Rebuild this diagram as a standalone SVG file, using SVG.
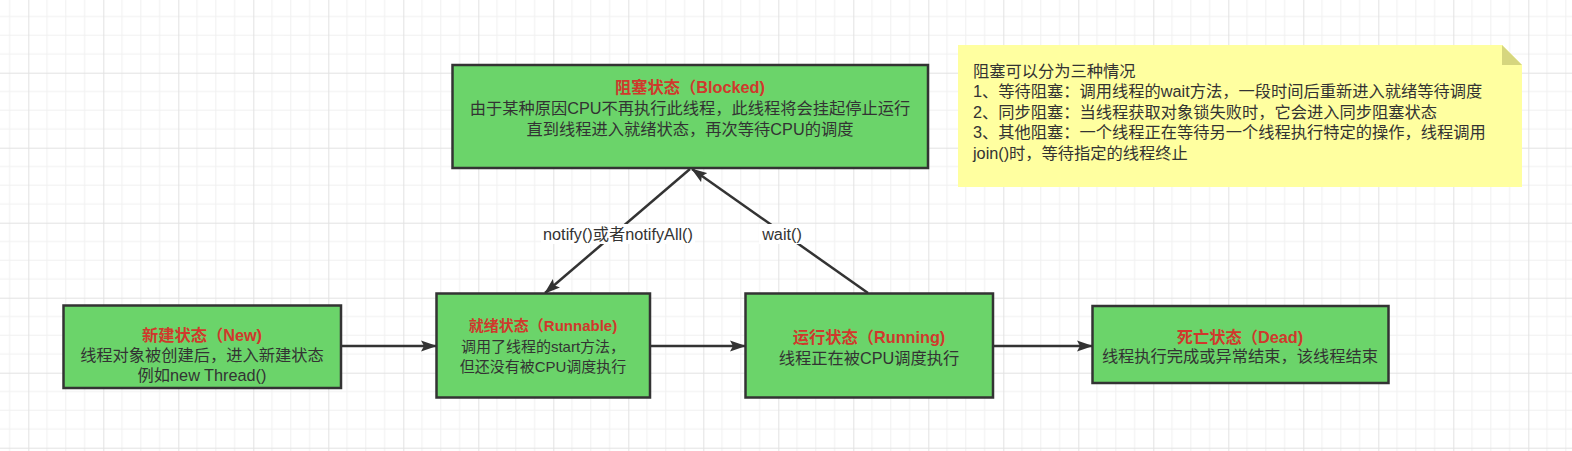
<svg xmlns="http://www.w3.org/2000/svg" width="1572" height="451" viewBox="0 0 1572 451">
<defs>
<pattern id="grid" patternUnits="userSpaceOnUse" x="28.3" y="-2.3" width="75" height="75">
<path d="M18.75 0V75M37.5 0V75M56.25 0V75M0 18.75H75M0 37.5H75M0 56.25H75" stroke="#f0f0f0" stroke-width="1" fill="none"/>
<path d="M0.5 0V75M0 0.5H75" stroke="#e2e2e2" stroke-width="1" fill="none"/>
</pattern>
<marker id="arr" viewBox="0 0 16 12" refX="15" refY="6" markerWidth="16" markerHeight="12" markerUnits="userSpaceOnUse" orient="auto">
<path d="M0 0.5L16 6L0 11.5L3 6Z" fill="#333333"/>
</marker>
</defs>
<style>
.box{fill:#6bd46a;stroke:#333333;stroke-width:2.5}
.t{font-family:"Liberation Sans","Noto Sans CJK SC",sans-serif;text-anchor:middle;fill:#333333}
.h{font-weight:bold;fill:#d0392c}
.f16{font-size:16.25px}
.f15{font-size:15px}
.edge{stroke:#333333;stroke-width:2.5;fill:none;marker-end:url(#arr)}
.lbl{font-family:"Liberation Sans","Noto Sans CJK SC",sans-serif;font-size:16.25px;text-anchor:middle;fill:#333333}
.note{font-family:"Liberation Sans","Noto Sans CJK SC",sans-serif;font-size:16.25px;fill:#333333}
</style>
<rect width="1572" height="451" fill="#ffffff"/>
<rect width="1572" height="451" fill="url(#grid)"/>

<g id="connectors">
<line class="edge" x1="341" y1="346" x2="436" y2="346"/>
<line class="edge" x1="650" y1="346" x2="745" y2="346"/>
<line class="edge" x1="993" y1="346" x2="1092" y2="346"/>
<line class="edge" x1="690" y1="169" x2="545" y2="293"/>
<line class="edge" x1="868" y1="293" x2="692" y2="169"/>
<rect x="541" y="224" width="154" height="20" fill="#ffffff"/>
<rect x="759" y="224" width="46" height="20" fill="#ffffff"/>
<text class="lbl" x="618" y="240">notify()或者notifyAll()</text>
<text class="lbl" x="782" y="240">wait()</text>
</g>

<g id="blocked">
<rect class="box" x="452.5" y="65" width="475.5" height="103"/>
<text class="t h f16" x="690" y="93">阻塞状态（Blocked)</text>
<text class="t f16" x="690" y="114">由于某种原因CPU不再执行此线程，此线程将会挂起停止运行</text>
<text class="t f16" x="690" y="135">直到线程进入就绪状态，再次等待CPU的调度</text>
</g>

<g id="new">
<rect class="box" x="63.5" y="305.5" width="277.5" height="82.5"/>
<text class="t h f16" x="202" y="341">新建状态（New)</text>
<text class="t f16" x="202" y="361">线程对象被创建后，进入新建状态</text>
<text class="t f16" x="202" y="381">例如new Thread()</text>
</g>

<g id="runnable">
<rect class="box" x="436.5" y="293.5" width="213.5" height="104"/>
<text class="t h f15" x="543" y="331">就绪状态（Runnable)</text>
<text class="t f15" x="543" y="352">调用了线程的start方法，</text>
<text class="t f15" x="543" y="372">但还没有被CPU调度执行</text>
</g>

<g id="running">
<rect class="box" x="745.5" y="293.5" width="247.5" height="104"/>
<text class="t h f16" x="869" y="343">运行状态（Running)</text>
<text class="t f16" x="869" y="364">线程正在被CPU调度执行</text>
</g>

<g id="dead">
<rect class="box" x="1092.5" y="306" width="296" height="77"/>
<text class="t h f16" x="1240" y="343">死亡状态（Dead)</text>
<text class="t f16" x="1240" y="362">线程执行完成或异常结束，该线程结束</text>
</g>

<g id="note">
<path d="M958 45H1502L1522 65V187H958Z" fill="#ffffa0"/>
<path d="M1502 45V65H1522Z" fill="#d6d67e"/>
<text class="note" x="973" y="77">阻塞可以分为三种情况</text>
<text class="note" x="973" y="97">1、等待阻塞：调用线程的wait方法，一段时间后重新进入就绪等待调度</text>
<text class="note" x="973" y="117.5">2、同步阻塞：当线程获取对象锁失败时，它会进入同步阻塞状态</text>
<text class="note" x="973" y="138">3、其他阻塞：一个线程正在等待另一个线程执行特定的操作，线程调用</text>
<text class="note" x="973" y="158.5">join()时，等待指定的线程终止</text>
</g>
</svg>
